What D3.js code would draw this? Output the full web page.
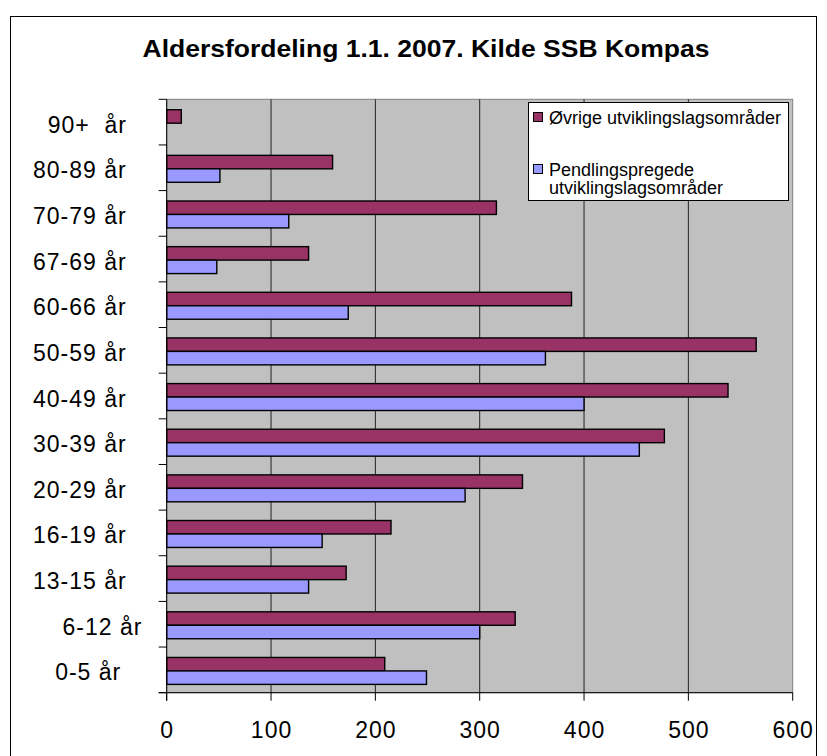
<!DOCTYPE html>
<html><head><meta charset="utf-8">
<script src="https://cdn.jsdelivr.net/npm/d3@7"></script>
<style>
body{margin:0;background:#fff}
text{font-family:Arial,"Liberation Sans",sans-serif;fill:#000}
</style>
</head><body>
<svg id="c" width="827" height="756"></svg>
<script>
const title = "Aldersfordeling 1.1. 2007. Kilde SSB Kompas";
const categories = ["  90+  år","80-89 år","70-79 år","67-69 år","60-66 år","50-59 år","40-49 år","30-39 år","20-29 år","16-19 år","13-15 år","    6-12 år","   0-5 år"];
const ovrige   = [14,159,316,136,388,565,538,477,341,215,172,334,209];
const pendling = [null,51,117,48,174,363,400,453,286,149,136,300,249];
const xTicks = [0,100,200,300,400,500,600];
const seriesNames = ["Øvrige utviklingslagsområder", "Pendlingspregede utviklingslagsområder"];
const seriesColors = ["#993366", "#9999FF"];

const svg = d3.select("#c");
const plot = {left:166.7, right:792.7, top:99.3, bottom:692.7};

// outer border
svg.append("rect").attr("x",10.5).attr("y",16.5).attr("width",806).attr("height",760)
  .attr("fill","#fff").attr("stroke","#000").attr("stroke-width",1);

// title
svg.append("text").attr("x",426).attr("y",57).attr("text-anchor","middle")
  .attr("font-size",24).attr("font-weight","bold")
  .attr("textLength",567).attr("lengthAdjust","spacingAndGlyphs")
  .text(title);

const x = d3.scaleLinear().domain([0,600]).range([plot.left, plot.right]);
const y = d3.scaleBand().domain(categories).range([plot.top, plot.bottom]).padding(0);
const bw = y.bandwidth();

// plot background
svg.append("rect").attr("x",plot.left).attr("y",plot.top)
  .attr("width",plot.right-plot.left).attr("height",plot.bottom-plot.top)
  .attr("fill","#C0C0C0").attr("stroke","#808080").attr("stroke-width",1);

// gridlines
svg.append("g").selectAll("line").data(xTicks.filter(t=>t>0 && t<600)).join("line")
  .attr("x1",d=>x(d)).attr("x2",d=>x(d)).attr("y1",plot.top).attr("y2",plot.bottom)
  .attr("stroke","#222").attr("stroke-width",1);

// bars
const data = categories.map((c,i)=>({c, v:[ovrige[i], pendling[i]]}));
const barH = bw*0.295, off = bw*0.228;
const g = svg.append("g");
[0,1].forEach(s=>{
  g.selectAll("rect.s"+s).data(data.filter(d=>d.v[s]!=null)).join("rect")
    .attr("class","s"+s)
    .attr("x",x(0)).attr("y",d=>y(d.c)+off+s*barH)
    .attr("width",d=>x(d.v[s])-x(0)).attr("height",barH)
    .attr("fill",seriesColors[s]).attr("stroke","#000").attr("stroke-width",1.4);
});

// axes
const yAxis = svg.append("g");
yAxis.append("line").attr("x1",plot.left).attr("x2",plot.left).attr("y1",plot.top).attr("y2",plot.bottom+8)
  .attr("stroke","#000");
const bounds = categories.map(c=>y(c)).concat([plot.bottom]);
yAxis.selectAll("line.t").data(bounds).join("line").attr("class","t")
  .attr("x1",plot.left-8).attr("x2",plot.left).attr("y1",d=>d).attr("y2",d=>d).attr("stroke","#000");
yAxis.selectAll("text").data(categories).join("text")
  .attr("x",33).attr("y",c=>y(c)+bw/2+10.5).attr("text-anchor","start")
  .attr("font-size",23).attr("letter-spacing","1px")
  .attr("xml:space","preserve")
  .style("white-space","pre")
  .text(c=>c);

const xAxis = svg.append("g");
xAxis.append("line").attr("x1",plot.left-8).attr("x2",plot.right).attr("y1",plot.bottom).attr("y2",plot.bottom)
  .attr("stroke","#000");
xAxis.selectAll("line.t").data(xTicks).join("line").attr("class","t")
  .attr("x1",d=>x(d)).attr("x2",d=>x(d)).attr("y1",plot.bottom).attr("y2",plot.bottom+8).attr("stroke","#000");
xAxis.selectAll("text").data(xTicks).join("text")
  .attr("x",d=>x(d)+0.5).attr("y",737.5).attr("text-anchor","middle")
  .attr("font-size",23).attr("letter-spacing","1px")
  .text(d=>d);

// legend
const lg = svg.append("g");
lg.append("rect").attr("x",528.5).attr("y",102.5).attr("width",260).attr("height",98)
  .attr("fill","#fff").attr("stroke","#000").attr("stroke-width",1);
const legendLines = [[seriesNames[0]], ["Pendlingspregede","utviklingslagsområder"]];
const markerY = [117, 169];
legendLines.forEach((lines,i)=>{
  lg.append("rect").attr("x",533.5).attr("y",markerY[i]-4.5).attr("width",9).attr("height",9)
    .attr("fill",seriesColors[i]).attr("stroke","#000").attr("stroke-width",1);
  lines.forEach((t,j)=>{
    lg.append("text").attr("x",549).attr("y",markerY[i]+6.5+j*18.5)
      .attr("font-size",18).text(t);
  });
});
</script>
</body></html>
